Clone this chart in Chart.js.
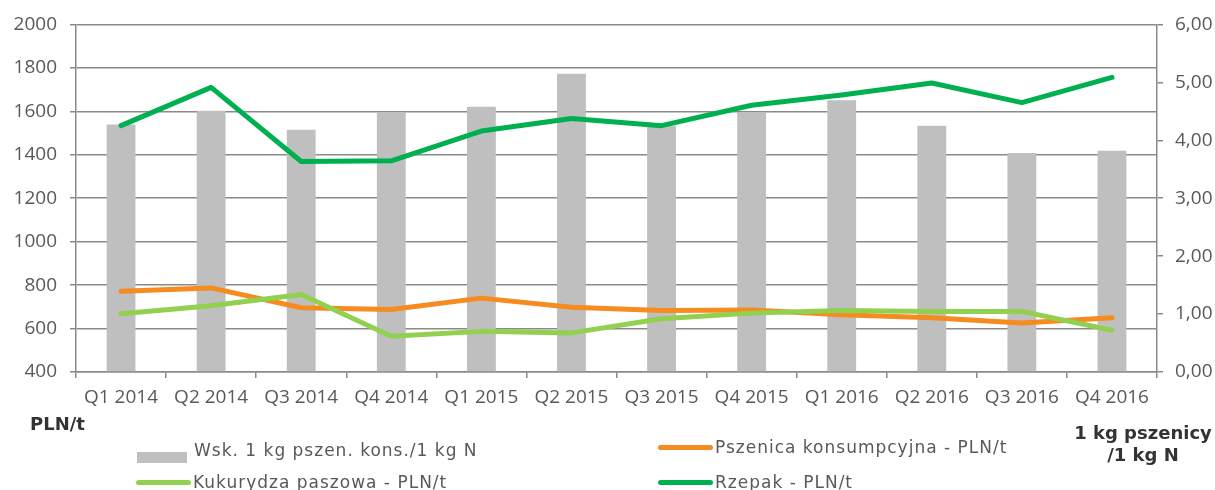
<!DOCTYPE html>
<html>
<head>
<meta charset="utf-8">
<script src="https://cdn.jsdelivr.net/npm/chart.js@4"></script>
<style>
  body { margin: 0; background: #fff; }
  #wrap { position: relative; width: 1215px; height: 490px; overflow: hidden; }
  #ch1 { position: absolute; left: 0; top: 0; }
  .lg { position: absolute; font-family: "DejaVu Sans", sans-serif; font-size: 17px; letter-spacing: 1px; color: #595959; white-space: nowrap; line-height: 20px; }
  .sym { position: absolute; }
  .bold { position: absolute; font-family: "DejaVu Sans", sans-serif; font-weight: bold; font-size: 18px; color: #333; white-space: nowrap; line-height: 22px; }
</style>
</head>
<body>
<div id="wrap">
  <canvas id="ch1" width="1215" height="490"></canvas>
  <div class="bold" style="left:30px; top:413px;">PLN/t</div>
  <div class="bold" style="left:1068px; top:422px; width:150px; text-align:center;">1 kg pszenicy<br>/1 kg N</div>
  <div id="legend"></div>
</div>
<script>
// dane
var labels = ['Q1 2014','Q2 2014','Q3 2014','Q4 2014','Q1 2015','Q2 2015','Q3 2015','Q4 2015','Q1 2016','Q2 2016','Q3 2016','Q4 2016'];
var wskaznik = [4.27, 4.51, 4.18, 4.49, 4.58, 5.15, 4.25, 4.49, 4.69, 4.25, 3.78, 3.82]; // prawa os
var pszenica = [772, 787, 696, 688, 740, 698, 683, 685, 664, 650, 625, 650];
var kukurydza = [668, 705, 757, 565, 587, 580, 645, 671, 683, 679, 679, 592];
var rzepak = [1534, 1710, 1369, 1372, 1509, 1567, 1534, 1628, 1675, 1730, 1640, 1756];

var names = ['Wsk. 1 kg pszen. kons./1 kg N', 'Pszenica konsumpcyjna - PLN/t', 'Kukurydza paszowa - PLN/t', 'Rzepak - PLN/t'];
var colors = ['#BFBFBF', '#F68B1F', '#92D050', '#00B050'];

var gridCol = '#8a8a8a';
var tickFont = { family: 'Open Sans', size: 19 };

var chart = new Chart(document.getElementById('ch1').getContext('2d'), {
  type: 'bar',
  data: {
    labels: labels,
    datasets: [
      { type: 'bar', label: names[0], data: wskaznik, yAxisID: 'y1', backgroundColor: colors[0], barPercentage: 0.32, categoryPercentage: 1, order: 4 },
      { type: 'line', label: names[1], data: pszenica, yAxisID: 'y', borderColor: colors[1], borderWidth: 5, pointRadius: 0, tension: 0, borderCapStyle: 'round', borderJoinStyle: 'round', order: 3 },
      { type: 'line', label: names[2], data: kukurydza, yAxisID: 'y', borderColor: colors[2], borderWidth: 5, pointRadius: 0, tension: 0, borderCapStyle: 'round', borderJoinStyle: 'round', order: 2 },
      { type: 'line', label: names[3], data: rzepak, yAxisID: 'y', borderColor: colors[3], borderWidth: 5, pointRadius: 0, tension: 0, borderCapStyle: 'round', borderJoinStyle: 'round', order: 1 }
    ]
  },
  options: {
    responsive: false,
    animation: false,
    layout: { padding: { top: 22, left: 0, right: 0, bottom: 0 } },
    plugins: { legend: { display: false }, tooltip: { enabled: false } },
    scales: {
      x: {
        offset: true,
        grid: { offset: true, drawOnChartArea: false, drawTicks: true, tickLength: 6, color: gridCol, lineWidth: 1.5 },
        border: { color: gridCol, width: 1.5 },
        ticks: { color: '#595959', font: tickFont, padding: 8, maxRotation: 0, autoSkip: false },
        afterFit: function(s) { s.height = 118; }
      },
      y: {
        position: 'left',
        min: 400, max: 2000,
        grid: { color: gridCol, lineWidth: 1.5, tickLength: 6 },
        border: { color: gridCol, width: 1.5 },
        ticks: { stepSize: 200, color: '#595959', font: tickFont, padding: 13, callback: function(v) { return String(v); } },
        afterFit: function(s) { s.width = 76; }
      },
      y1: {
        position: 'right',
        min: 0, max: 6,
        grid: { drawOnChartArea: false, color: gridCol, lineWidth: 1.5, tickLength: 6 },
        border: { color: gridCol, width: 1.5 },
        ticks: { stepSize: 1, color: '#595959', font: tickFont, padding: 12, callback: function(v) { return v.toFixed(2).replace('.', ','); } },
        afterFit: function(s) { s.width = 58; }
      }
    }
  }
});

// legenda w dwoch kolumnach, jak w oryginale
var lg = [
  { i: 0, x: 137, y: 450, bar: true },
  { i: 1, x: 658, y: 447 },
  { i: 2, x: 136, y: 482 },
  { i: 3, x: 658, y: 482 }
];
var html = '';
lg.forEach(function(it) {
  if (it.bar) {
    html += '<div class="sym" style="left:' + it.x + 'px; top:' + (it.y + 2) + 'px; width:50px; height:11px; background:' + colors[it.i] + ';"></div>';
  } else {
    html += '<div class="sym" style="left:' + it.x + 'px; top:' + (it.y - 2) + 'px; width:55px; height:5px; border-radius:3px; background:' + colors[it.i] + ';"></div>';
  }
  html += '<div class="lg" style="left:' + (it.x + 57) + 'px; top:' + (it.y - 10) + 'px;">' + names[it.i] + '</div>';
});
document.getElementById('legend').innerHTML = html;
</script>
</body>
</html>
